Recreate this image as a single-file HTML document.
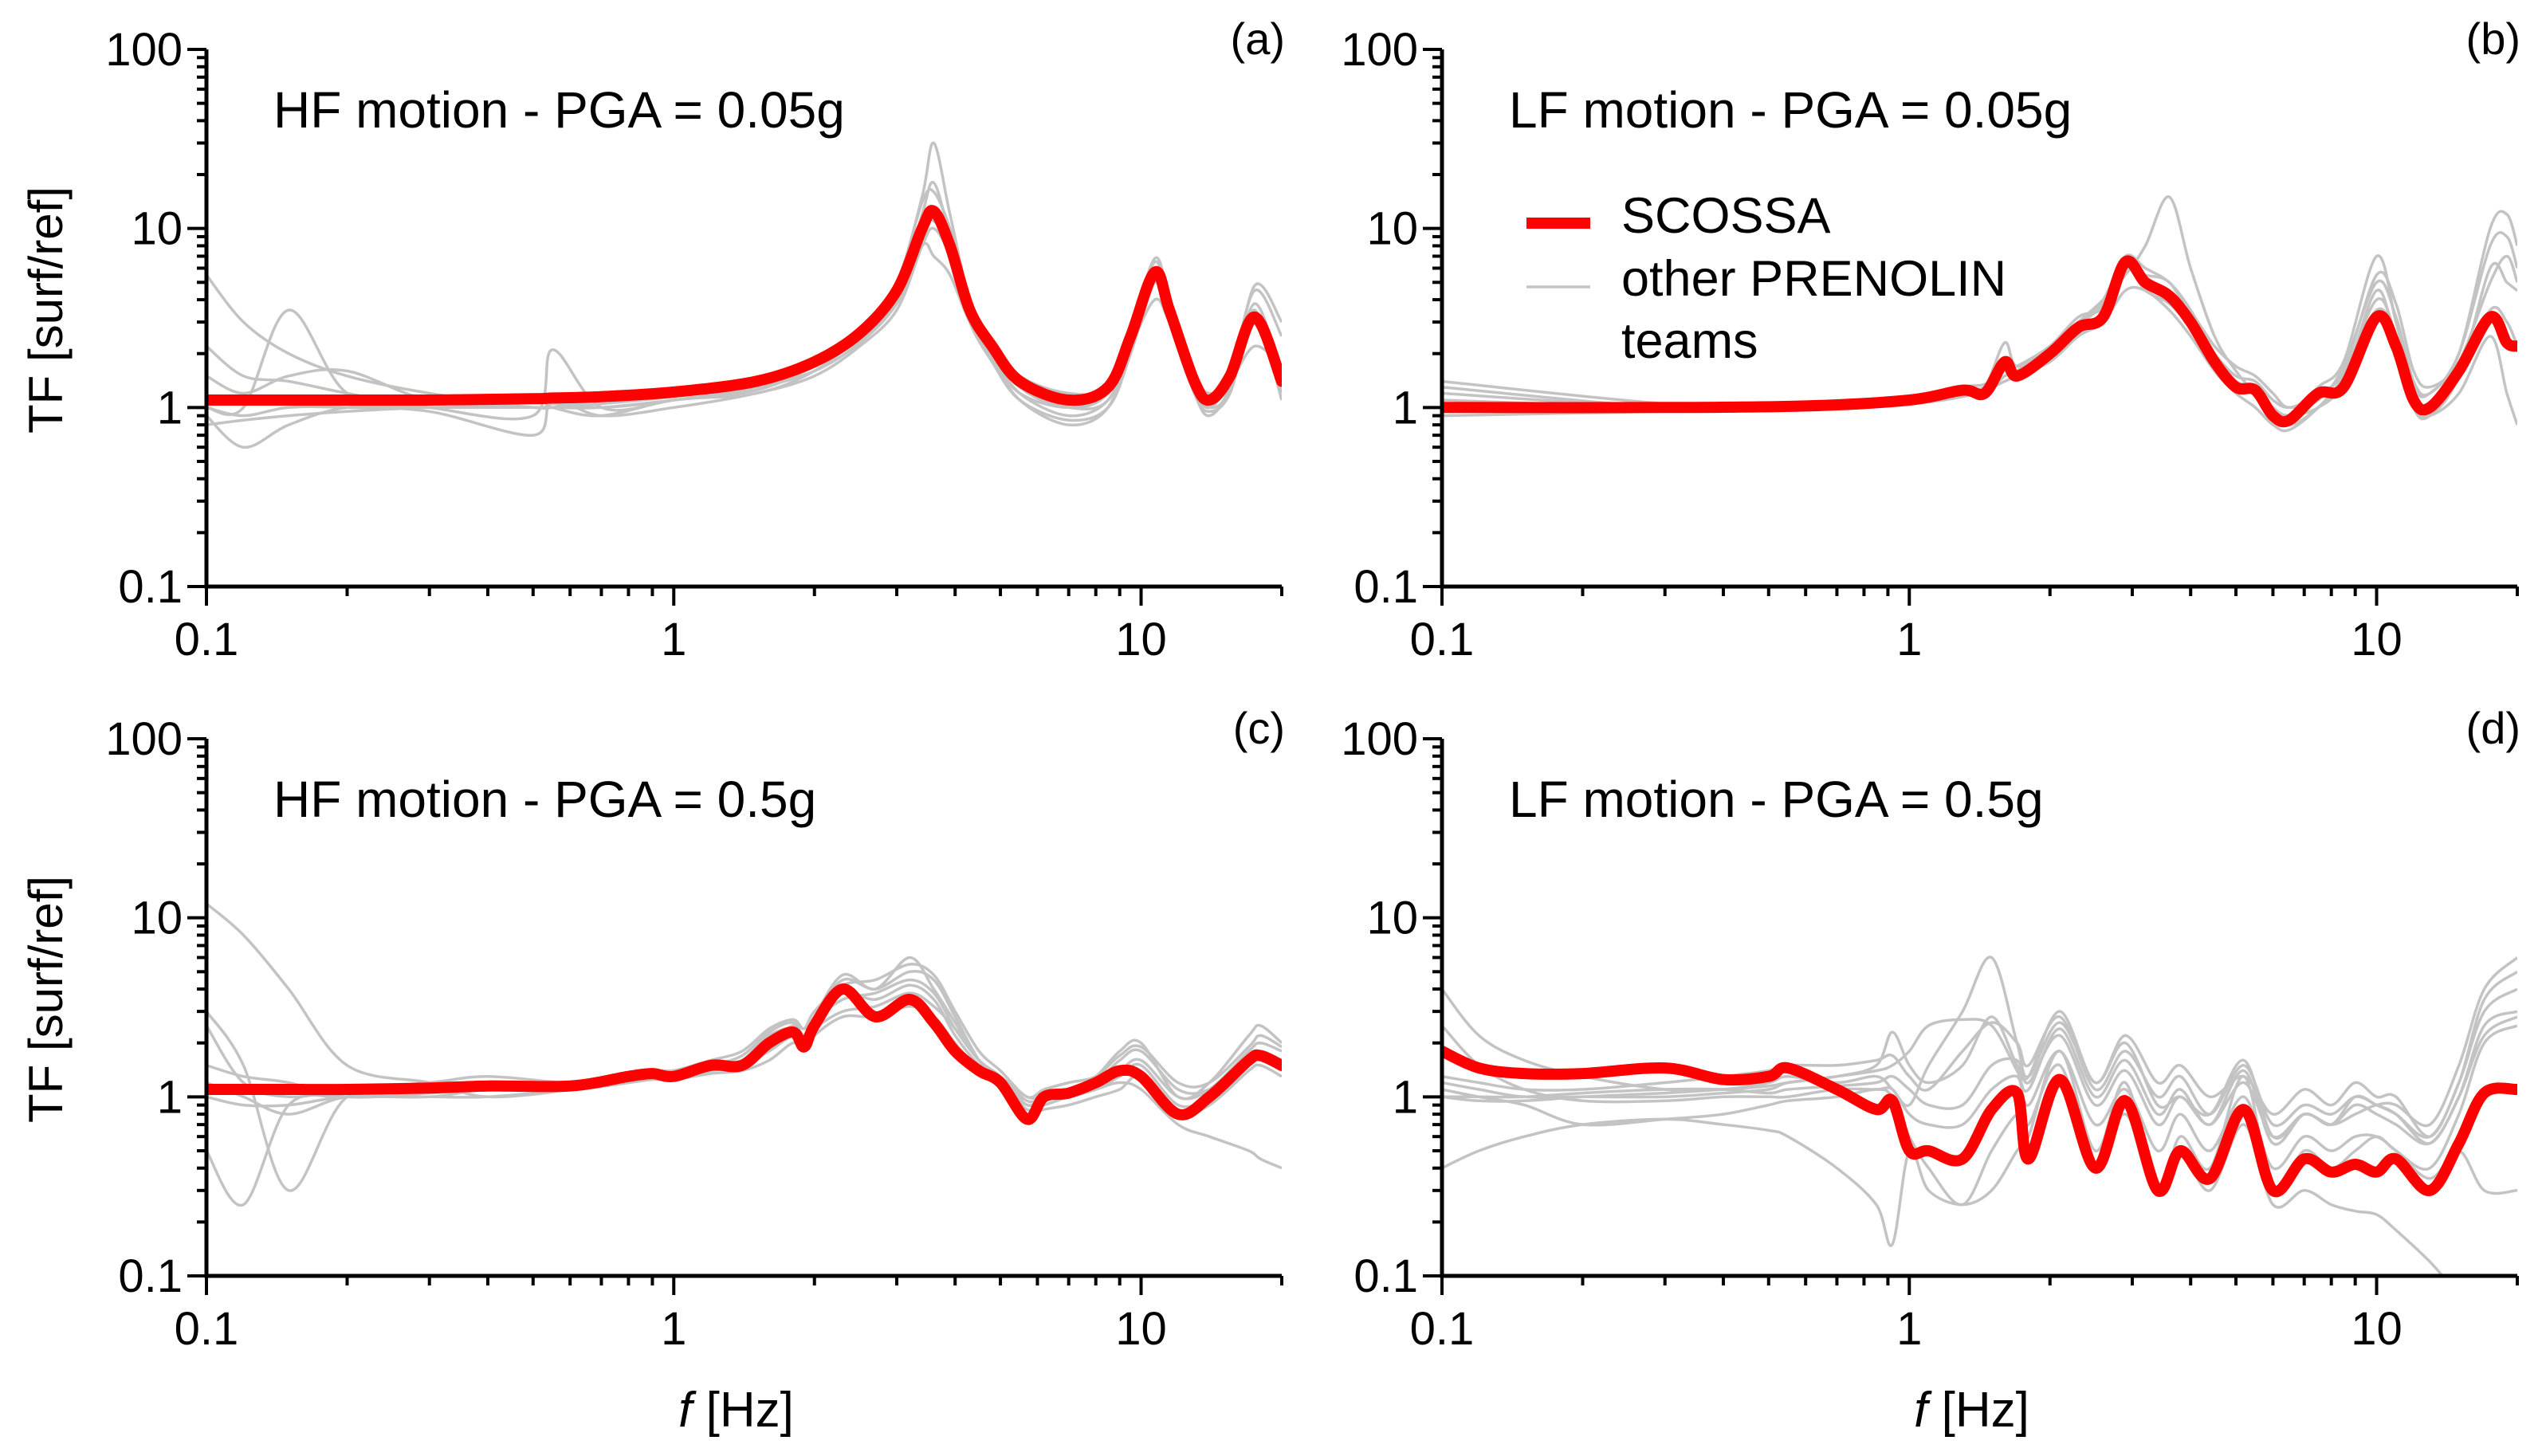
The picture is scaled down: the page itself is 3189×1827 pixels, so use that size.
<!DOCTYPE html>
<html><head><meta charset="utf-8"><style>
html,body{margin:0;padding:0;background:#fff}
svg{display:block}
text{font-family:"Liberation Sans",sans-serif;fill:#000}
</style></head><body>
<svg id="fig" width="3189" height="1827" viewBox="0 0 3189 1827" xmlns="http://www.w3.org/2000/svg"></svg>
<script>
// ---------- DATA ----------
const gridA=[0.1,0.12,0.15,0.2,0.3,0.5,0.55,0.7,1,1.5,2,2.5,3,3.4,3.6,3.9,4.3,4.8,5.5,7,8.5,9.5,10.7,11.5,13,14,15.5,17.5,20];
const redA=[1.1,1.1,1.1,1.1,1.1,1.12,1.13,1.15,1.22,1.4,1.8,2.6,4.5,10,12.5,8,3.5,2.2,1.4,1.1,1.3,2.5,5.7,3.5,1.4,1.1,1.5,3.2,1.4];
const grayA=[
[5.5,3,2,1.5,1.2,1.0,1.05,1.0,1.1,1.3,1.8,2.6,5,15,30,12,4,2.3,1.3,1.0,1.2,2.5,6.5,3.5,1.3,1.0,1.5,4.5,2.5],
[2.2,1.5,1.4,1.2,1.0,0.9,2.1,1.0,1.1,1.3,1.7,2.4,4,12,18,9,3.5,2.0,1.2,0.9,1.1,2.2,6,3.6,1.4,1.0,1.3,4.8,3],
[1.0,0.9,1.0,1.0,0.95,0.7,1.1,0.9,1.0,1.2,1.5,2.2,3.5,8,10,7,3,1.8,1.1,0.85,1.0,2,5,3,1.2,0.9,1.3,3.8,1.5],
[0.9,0.6,0.8,1.0,1.0,1.0,1.0,1.05,1.15,1.35,1.9,2.8,5,14,16,10,4,2.4,1.5,1.2,1.3,2.6,6.8,4,1.5,1.1,1.4,3.5,1.2],
[1.5,1.2,1.5,1.6,1.1,1.0,1.0,1.1,1.2,1.3,1.6,2.3,3.8,8,7,5.5,3,1.9,1.2,1.0,1.2,2.2,4,3,1.5,1.2,1.4,2.2,1.7],
[1.0,1.0,3.5,1.2,1.0,1.1,1.0,0.9,1.1,1.2,1.6,2.5,4,11,13,8.5,3.4,2.0,1.3,1.0,1.1,2.4,5.5,3.2,1.3,1.0,1.4,3,1.3],
[0.8,0.85,0.9,0.95,1.0,1.0,1.0,1.0,1.1,1.25,1.7,2.5,4.2,10,11,8,3.2,1.9,1.1,0.8,1.0,2.3,5.2,3.3,1.2,0.95,1.2,3.2,1.1]];
const gridB=[0.1,0.3,0.6,1,1.3,1.45,1.6,1.7,2,2.3,2.6,2.9,3.2,3.6,4,4.5,5,5.5,6,6.5,7.5,8.5,10,11,12,13,15,17.5,19,20];
const redB=[1.0,1.0,1.02,1.1,1.25,1.2,1.8,1.5,2.0,2.8,3.2,6.5,5,4.2,3,1.8,1.3,1.25,0.9,0.85,1.2,1.3,3.2,2.2,1.1,1.0,1.6,3.2,2.3,2.2];
const grayB=[
[1.4,1.05,1.0,1.1,1.2,1.25,1.5,1.6,2.2,3,4,5.5,8,15,6,2.5,1.6,1.2,1.0,0.9,1.3,1.8,7,3,1.3,1.2,2,10,12,8],
[1.2,1.0,1.0,1.05,1.15,1.3,2.3,1.7,2.2,3,4,7,6,5,3.5,2.0,1.4,1.2,1.0,0.8,1.0,1.5,4,2.5,1.0,0.9,1.5,6,5,4.5],
[0.9,0.95,0.98,1.05,1.2,1.25,1.4,1.5,1.8,2.5,3,4.5,4.5,3.5,2.5,1.6,1.2,1.0,0.8,0.75,1.0,1.5,3.5,2.5,1.2,1.0,1.5,3.5,3,2.2],
[1.1,1.0,1.0,1.1,1.3,1.35,1.6,1.7,2.2,3.2,3.6,6,5.5,5,3.2,2.0,1.5,1.4,1.1,1.0,1.1,1.7,5,3.2,1.4,1.2,2,8,9,6],
[1.0,1.0,1.0,1.1,1.2,1.2,1.5,1.6,2,2.6,3.4,6,4.5,3.8,2.8,1.9,1.4,1.3,1.0,0.9,1.0,1.4,4.5,2.2,1.0,0.9,1.2,2.5,1.2,0.8],
[1.3,1.0,1.0,1.08,1.25,1.3,1.7,1.6,2.1,2.9,3.8,6.8,5.2,4.2,3.4,2.2,1.7,1.5,1.2,1.0,1.2,1.6,5.5,3.8,1.6,1.3,1.8,5,7,5]];
const gridC=[0.1,0.12,0.15,0.2,0.3,0.4,0.6,0.8,0.9,1,1.2,1.4,1.6,1.8,1.9,2,2.3,2.7,3.2,3.6,4,4.5,5,5.7,6.2,7,8,9,10,12,14,17,18,20];
const redC=[1.1,1.1,1.1,1.1,1.12,1.15,1.15,1.3,1.35,1.3,1.5,1.5,2,2.3,1.9,2.5,4,2.8,3.5,2.6,1.8,1.4,1.2,0.75,1.0,1.05,1.2,1.4,1.3,0.8,1.0,1.6,1.7,1.5];
const grayC=[
[12,8,4,1.5,1.2,1.0,1.1,1.3,1.4,1.4,1.5,1.6,2,2.5,2.2,2.8,4.5,4,5,4.5,2.8,1.6,1.2,0.9,1.0,1.1,1.3,1.8,2,1.0,1.2,2.2,2.5,2],
[3,1.5,0.3,1.0,1.1,1.2,1.2,1.3,1.3,1.3,1.4,1.6,2.2,2.4,2.0,2.6,3.5,3.8,4.5,3.8,2.4,1.6,1.3,0.9,1.0,1.0,1.1,1.2,1.1,0.7,0.6,0.5,0.45,0.4],
[1.0,0.9,0.9,1.0,1.0,1.1,1.1,1.2,1.3,1.3,1.4,1.5,1.8,2.2,2.0,2.4,3,3.2,3.8,3.2,2.4,1.6,1.3,1.0,1.0,1.0,1.2,1.6,1.8,1.1,1.1,1.6,1.8,1.6],
[1.5,1.3,1.2,1.0,1.05,1.1,1.15,1.25,1.3,1.35,1.5,1.7,2.3,2.6,2.2,2.8,4.8,4,6,4,2.6,1.6,1.3,0.95,1.0,1.1,1.2,1.4,1.6,1.0,1.1,1.8,2,1.8],
[0.5,0.25,0.9,1.0,1.1,1.1,1.2,1.3,1.3,1.4,1.5,1.5,2,2.3,2.0,2.6,3.8,3.5,4.2,3.5,2.2,1.5,1.2,0.85,0.9,1.0,1.1,1.3,1.5,0.9,1.0,1.5,1.6,1.4],
[2.5,1.2,1.0,1.1,1.2,1.3,1.2,1.3,1.4,1.4,1.6,1.8,2.4,2.7,2.4,3,4.2,4.5,5.5,4.8,3,1.8,1.4,1.0,1.1,1.2,1.3,1.7,1.9,1.2,1.2,1.9,2.2,1.9],
[1.2,1.0,0.8,1.0,1.0,1.0,1.1,1.2,1.25,1.25,1.35,1.4,1.6,2,1.8,2.2,2.8,2.8,3.2,2.8,2,1.4,1.2,0.8,0.85,0.9,1.0,1.1,1.3,0.8,0.9,1.4,1.5,1.3]];
const gridD=[0.1,0.12,0.15,0.2,0.3,0.4,0.5,0.55,0.7,0.85,0.92,1.0,1.1,1.3,1.5,1.7,1.8,2.1,2.5,2.9,3.4,3.8,4.4,5.2,6,7,8,9,10,11,13,15,17,20];
const redD=[1.8,1.45,1.35,1.35,1.45,1.25,1.3,1.45,1.1,0.85,0.95,0.5,0.5,0.45,0.85,1.05,0.45,1.25,0.4,0.95,0.3,0.5,0.35,0.85,0.3,0.45,0.38,0.42,0.38,0.45,0.3,0.55,1.05,1.1];
const grayD=[
[4,2.2,1.6,1.3,1.1,1.1,1.2,1.3,1.2,1.3,1.1,0.9,1.5,3,6,2,1.3,2.6,1.2,2,0.9,1.0,0.8,1.6,0.6,0.8,0.7,0.8,0.9,0.9,0.7,1.5,4,6],
[1.2,1.1,1.0,1.0,1.0,1.05,1.1,1.2,1.3,1.5,2.3,1.5,1.2,1.5,2.8,1.5,1.3,3,1.2,2.2,1.2,1.5,1.0,1.3,0.8,1.1,0.9,1.2,1.0,1.0,0.6,1.2,3,4],
[0.4,0.5,0.6,0.7,0.75,0.7,0.65,0.6,0.4,0.25,0.15,0.5,0.3,0.25,0.3,0.5,0.6,1.8,0.5,1.2,0.3,0.6,0.4,1.3,0.3,0.5,0.4,0.5,0.6,0.5,0.4,0.8,2,2.5],
[1.0,1.0,1.0,1.05,1.1,1.1,1.05,1.1,1.15,1.2,1.3,1.1,0.9,0.9,1.5,1.6,1.2,2.2,0.9,1.4,0.7,1.0,0.7,1.2,0.6,0.8,0.7,0.9,0.8,0.7,0.55,1.0,2.5,3],
[1.1,1.0,0.9,0.7,0.75,0.8,0.9,0.95,1.0,1.1,1.0,0.6,0.4,0.25,0.5,0.8,0.7,1.5,0.4,0.8,0.3,0.5,0.3,0.7,0.25,0.3,0.25,0.23,0.22,0.18,0.12,0.08,0.07,0.06],
[1.3,1.2,1.1,1.1,1.2,1.3,1.4,1.5,1.5,1.6,1.7,1.3,1.1,1.8,2.6,2.0,1.5,2.8,1.1,1.8,1.0,1.3,0.8,1.5,0.7,0.9,0.8,1.0,0.9,0.8,0.6,1.2,3.5,5],
[2.5,1.5,1.1,0.95,0.95,1.0,1.0,1.0,1.1,1.1,1.1,0.8,0.7,0.7,1.1,1.3,0.9,1.8,0.7,1.1,0.5,0.8,0.5,1.0,0.4,0.6,0.5,0.6,0.6,0.5,0.35,0.5,0.3,0.3],
[1.0,0.95,0.95,1.0,1.05,1.1,1.15,1.2,1.3,1.4,1.5,1.8,2.5,2.7,2.5,1.4,1.1,2.4,1.0,1.6,0.8,1.1,0.7,1.4,0.55,0.8,0.7,1.0,0.9,0.8,0.55,1.0,2.2,2.8]];
const xTickLabels=["0.1","1","10"];
const yTickLabels=["0.1","1","10","100"];
const panelTitles=["HF motion - PGA = 0.05g","LF motion - PGA = 0.05g","HF motion - PGA = 0.5g","LF motion - PGA = 0.5g"];
const panelLetters=["(a)","(b)","(c)","(d)"];

// ---------- DRAW ----------
const NS="http://www.w3.org/2000/svg";
const svg=document.getElementById('fig');
function el(tag,attrs,parent){const e=document.createElementNS(NS,tag);for(const k in attrs)e.setAttribute(k,attrs[k]);(parent||svg).appendChild(e);return e;}
const panels=[
 {x0:259,x1:1608,y0:62,y1:736,grid:gridA,red:redA,gray:grayA},
 {x0:1809,x1:3158,y0:62,y1:736,grid:gridB,red:redB,gray:grayB},
 {x0:259,x1:1608,y0:927,y1:1601,grid:gridC,red:redC,gray:grayC},
 {x0:1809,x1:3158,y0:927,y1:1601,grid:gridD,red:redD,gray:grayD}];
function smoothPath(pts){
 let d="M"+pts[0][0].toFixed(1)+","+pts[0][1].toFixed(1);
 for(let i=0;i<pts.length-1;i++){
  const p0=pts[Math.max(0,i-1)],p1=pts[i],p2=pts[i+1],p3=pts[Math.min(pts.length-1,i+2)];
  const c1=[p1[0]+(p2[0]-p0[0])/6,p1[1]+(p2[1]-p0[1])/6];
  const c2=[p2[0]-(p3[0]-p1[0])/6,p2[1]-(p3[1]-p1[1])/6];
  d+=" C"+c1[0].toFixed(1)+","+c1[1].toFixed(1)+" "+c2[0].toFixed(1)+","+c2[1].toFixed(1)+" "+p2[0].toFixed(1)+","+p2[1].toFixed(1);
 }
 return d;
}
panels.forEach((P,pi)=>{
 const sx=f=>P.x0+(Math.log10(f)-(-1))/Math.log10(200)*(P.x1-P.x0);
 const sy=v=>P.y1-(Math.log10(v)+1)/3*(P.y1-P.y0);
 const g=el('g',{});
 
 
 const cid='clip'+pi;
 const cp=el('clipPath',{id:cid},g);
 el('rect',{x:P.x0,y:P.y0-10,width:P.x1-P.x0,height:P.y1-P.y0+10},cp);
 const lines=el('g',{'clip-path':'url(#'+cid+')'},g);
 P.gray.forEach((vals,gi)=>{
  const pts=P.grid.map((f,i)=>[sx(f),sy(vals[i])]);
  const p=el('path',{d:smoothPath(pts),fill:'none',stroke:'#c3c3c3','stroke-width':3.5,'stroke-linejoin':'round'},lines);
  
  
 });
 const rp=P.grid.map((f,i)=>[sx(f),sy(P.red[i])]);
 const r=el('path',{d:smoothPath(rp),fill:'none',stroke:'#ff0000','stroke-width':14,'stroke-linejoin':'round','stroke-linecap':'round'},lines);
 
 
 const ax=el('path',{d:`M${P.x0},${P.y0} V${P.y1} H${P.x1}`,fill:'none',stroke:'#000','stroke-width':5},g);
 
 
 for(let dec=-1;dec<2;dec++){for(let m=1;m<10;m++){
   const y=sy(m*Math.pow(10,dec));
   el('line',{x1:P.x0-(m==1?24:12),x2:P.x0,y1:y,y2:y,stroke:'#000','stroke-width':4},g);}}
 el('line',{x1:P.x0-24,x2:P.x0,y1:P.y0,y2:P.y0,stroke:'#000','stroke-width':4},g);
 yTickLabels.forEach((t,i)=>{
  const tx=el('text',{x:P.x0-30,y:sy(Math.pow(10,i-1))+20,'text-anchor':'end','font-size':58},g);
  tx.textContent=t;
  
  
 });
 for(let dec=-1;dec<2;dec++){for(let m=1;m<10;m++){
   const f=m*Math.pow(10,dec); if(f>20.001)continue;
   const x=sx(f);
   el('line',{x1:x,x2:x,y1:P.y1,y2:P.y1+(m==1?24:12),stroke:'#000','stroke-width':4},g);}}
 el('line',{x1:sx(20),x2:sx(20),y1:P.y1,y2:P.y1+12,stroke:'#000','stroke-width':4},g);
 xTickLabels.forEach((t,i)=>{
  const tx=el('text',{x:sx(Math.pow(10,i-1)),y:P.y1+86,'text-anchor':'middle','font-size':58},g);
  tx.textContent=t;
  
  
 });
 const tt=el('text',{x:P.x0+84,y:P.y0+98,'font-size':64},g);
 tt.textContent=panelTitles[pi];
 
 
 const lt=el('text',{x:P.x1+4,y:P.y0+6,'text-anchor':'end','font-size':56},g);
 lt.textContent=panelLetters[pi];
 
 
 if(pi%2==0){
  const yc=(P.y0+P.y1)/2-10;
  const yt=el('text',{x:78,y:yc,'text-anchor':'middle','font-size':60,transform:`rotate(-90 78 ${yc})`},g);
  yt.textContent="TF [surf/ref]";
  
  
 }
 if(pi>=2){
  const xt=el('text',{x:(P.x0+P.x1)/2-10,y:1790,'text-anchor':'middle','font-size':62},g);
  xt.innerHTML='<tspan font-style="italic">f</tspan> [Hz]';
  
  
 }
});
const lg=el('g',{});


el('line',{x1:1915,x2:1995,y1:280,y2:280,stroke:'#ff0000','stroke-width':14},lg);
el('line',{x1:1915,x2:1995,y1:360,y2:360,stroke:'#c3c3c3','stroke-width':3.5},lg);
const l1=el('text',{x:2034,y:292,'font-size':63},lg);l1.textContent="SCOSSA";


const l2=el('text',{x:2034,y:371,'font-size':63},lg);l2.textContent="other PRENOLIN";


const l3=el('text',{x:2034,y:449,'font-size':63},lg);l3.textContent="teams";


</script>
</body></html>
